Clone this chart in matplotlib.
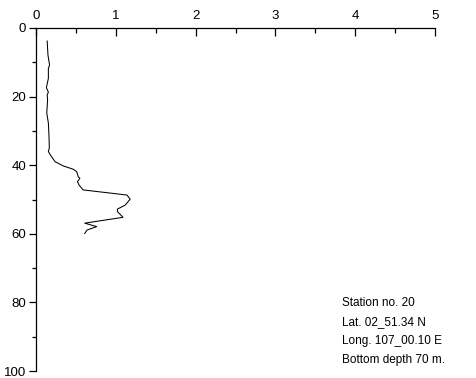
import matplotlib
matplotlib.use("Agg")
import matplotlib.pyplot as plt
from matplotlib.ticker import MultipleLocator

plt.rcParams['font.family'] = ['Liberation Sans', 'DejaVu Sans']

value = [0.14, 0.15, 0.17, 0.155, 0.155, 0.13, 0.155, 0.14, 0.145, 0.135, 0.155,
         0.163, 0.167, 0.155, 0.18, 0.24, 0.34, 0.47, 0.51, 0.53, 0.55, 0.52, 0.54,
         0.59, 1.14, 1.18, 1.12, 1.02, 1.02, 1.09, 0.61, 0.76, 0.64, 0.61]
depth = [3.8, 7.9, 10.8, 11.8, 14.7, 17.4, 18.7, 19.5, 21.0, 24.8, 27.7,
         31.7, 35.0, 36.0, 37.0, 39.0, 40.2, 41.2, 41.9, 43.4, 43.8, 44.8, 45.8,
         47.2, 48.7, 49.9, 51.6, 52.8, 53.5, 55.2, 56.9, 57.9, 58.9, 59.9]
info_lines = ["Station no. 20", "Lat. 02_51.34 N", "Long. 107_00.10 E", "Bottom depth 70 m."]

fig = plt.figure(figsize=(4.76, 3.78), dpi=100)
ax = fig.add_axes([36/476, 1-371/378, (435-36)/476, (371-28)/378])
ax.plot(value, depth, color='black', lw=0.75)
ax.set_xlim(0, 5)
ax.set_ylim(100, 0)
ax.xaxis.tick_top()
ax.xaxis.set_major_locator(MultipleLocator(1))
ax.xaxis.set_minor_locator(MultipleLocator(0.5))
ax.yaxis.set_major_locator(MultipleLocator(20))
ax.yaxis.set_minor_locator(MultipleLocator(10))
for s in ['right', 'bottom']:
    ax.spines[s].set_visible(False)
for s in ['left', 'top']:
    ax.spines[s].set_linewidth(0.9)
ax.tick_params(axis='x', which='major', direction='in', length=6, width=0.9, labelsize=9.5, pad=4)
ax.tick_params(axis='x', which='minor', direction='in', length=3.5, width=0.9)
ax.tick_params(axis='y', which='major', direction='out', length=5, width=0.9, labelsize=9.5, pad=2)
ax.tick_params(axis='y', which='minor', direction='out', length=3, width=0.9)

for i, t in enumerate(info_lines):
    ax.text(3.83, 80.2 + i*5.55, t, fontsize=8.5, va='center', ha='left')

fig.savefig("out.png", dpi=100)
